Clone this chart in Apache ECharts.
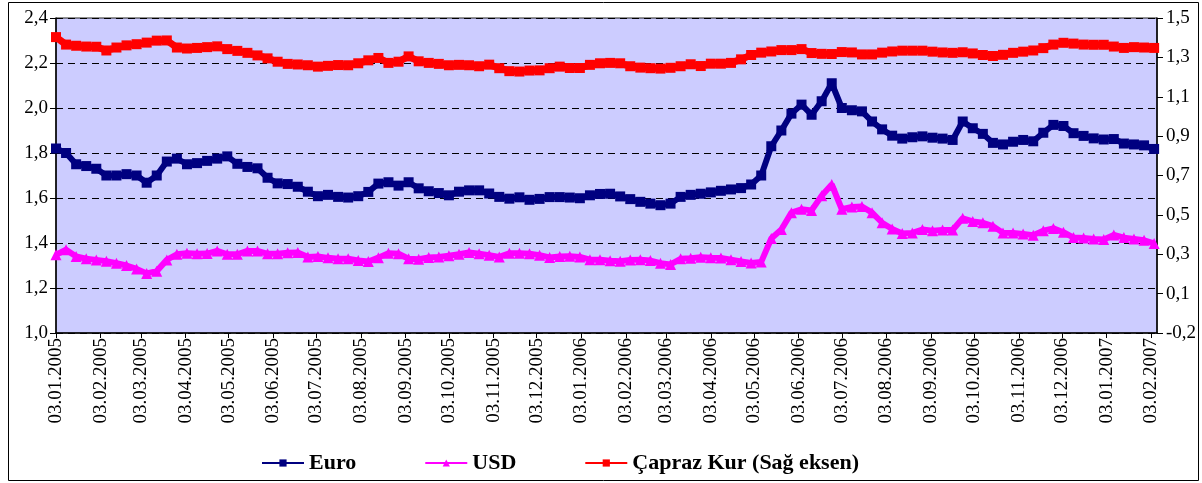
<!DOCTYPE html>
<html>
<head>
<meta charset="utf-8">
<script src="https://cdn.jsdelivr.net/npm/echarts@6/dist/echarts.min.js"></script>
<style>
  html, body { margin: 0; padding: 0; background: #fff; }
  #chart { width: 1202px; height: 483px; }
</style>
</head>
<body>
<div id="chart"></div>
<script>
// weekly readings, first week starts 03.01.2005
const firstWeek = [2005, 0, 3];
const weekCount = 110;

const tickLabels = [
  '03.01.2005', '03.02.2005', '03.03.2005', '03.04.2005', '03.05.2005', '03.06.2005',
  '03.07.2005', '03.08.2005', '03.09.2005', '03.10.2005', '03.11.2005', '03.12.2005',
  '03.01.2006', '03.02.2006', '03.03.2006', '03.04.2006', '03.05.2006', '03.06.2006',
  '03.07.2006', '03.08.2006', '03.09.2006', '03.10.2006', '03.11.2006', '03.12.2006',
  '03.01.2007', '03.02.2007'
];

const euro = [
  1.82, 1.80, 1.75, 1.742, 1.73, 1.70, 1.70, 1.706, 1.70, 1.668,
  1.70, 1.762, 1.775, 1.75, 1.755, 1.765, 1.775, 1.785, 1.752, 1.738,
  1.732, 1.69, 1.665, 1.662, 1.65, 1.628, 1.608, 1.614, 1.605, 1.602,
  1.608, 1.627, 1.664, 1.67, 1.655, 1.67, 1.643, 1.63, 1.622, 1.612,
  1.628, 1.634, 1.634, 1.62, 1.605, 1.597, 1.603, 1.592, 1.596, 1.604,
  1.604, 1.602, 1.599, 1.612, 1.618, 1.619, 1.607, 1.595, 1.583, 1.575,
  1.568, 1.575, 1.605, 1.614, 1.619, 1.625, 1.632, 1.638, 1.644, 1.66,
  1.70, 1.83, 1.90, 1.975, 2.015, 1.97, 2.03, 2.11, 2.00, 1.99,
  1.985, 1.94, 1.905, 1.877, 1.864, 1.87, 1.874, 1.868, 1.864, 1.858,
  1.94, 1.91, 1.885, 1.845, 1.838, 1.85, 1.858, 1.852, 1.89, 1.925,
  1.92, 1.888, 1.876, 1.865, 1.86, 1.862, 1.842, 1.838, 1.834, 1.818
];

const usd = [
  1.348, 1.37, 1.34, 1.33, 1.325, 1.319, 1.31, 1.30, 1.285, 1.265,
  1.275, 1.325, 1.35, 1.355, 1.352, 1.353, 1.365, 1.35, 1.35, 1.365,
  1.365, 1.352, 1.352, 1.357, 1.358, 1.338, 1.34, 1.334, 1.33, 1.33,
  1.322, 1.318, 1.335, 1.355, 1.352, 1.33, 1.328, 1.336, 1.338, 1.343,
  1.35, 1.358, 1.352, 1.346, 1.338, 1.354, 1.355, 1.352, 1.346, 1.336,
  1.34, 1.341, 1.338, 1.326, 1.326, 1.321, 1.319, 1.325, 1.326, 1.322,
  1.31, 1.305, 1.33, 1.332, 1.337, 1.334, 1.333, 1.326, 1.318, 1.311,
  1.316, 1.42, 1.46, 1.535, 1.55, 1.545, 1.61, 1.66, 1.55, 1.56,
  1.562, 1.535, 1.49, 1.462, 1.442, 1.445, 1.46, 1.455, 1.458, 1.458,
  1.51, 1.496, 1.49, 1.475, 1.445, 1.444, 1.44, 1.435, 1.455, 1.465,
  1.448, 1.424, 1.422, 1.418, 1.416, 1.436, 1.424, 1.418, 1.412, 1.398
];

const capraz = [
  1.353, 1.315, 1.309, 1.305, 1.304, 1.285, 1.30, 1.311, 1.317, 1.325,
  1.335, 1.336, 1.30, 1.295, 1.298, 1.302, 1.306, 1.292, 1.283, 1.273,
  1.26, 1.245, 1.228, 1.217, 1.214, 1.21, 1.203, 1.207, 1.211, 1.21,
  1.22, 1.235, 1.247, 1.222, 1.228, 1.255, 1.23, 1.222, 1.217, 1.21,
  1.212, 1.21, 1.205, 1.213, 1.195, 1.18, 1.178, 1.183, 1.184, 1.195,
  1.203, 1.196, 1.196, 1.212, 1.22, 1.222, 1.22, 1.205, 1.198, 1.195,
  1.193, 1.197, 1.205, 1.215, 1.206, 1.218, 1.218, 1.222, 1.24, 1.262,
  1.274, 1.28, 1.287, 1.287, 1.292, 1.272, 1.268, 1.267, 1.277, 1.275,
  1.265, 1.265, 1.274, 1.28, 1.284, 1.284, 1.284, 1.279, 1.275, 1.273,
  1.276, 1.27, 1.262, 1.257, 1.263, 1.273, 1.279, 1.285, 1.297, 1.315,
  1.324, 1.32, 1.315, 1.314, 1.314, 1.305, 1.298, 1.302, 1.30, 1.298
];

const weekDates = [];
for (let k = 0; k < weekCount; k++) {
  weekDates.push(new Date(firstWeek[0], firstWeek[1], firstWeek[2] + 7 * k).getTime());
}

function parseLabel(s) {
  const p = s.split('.');
  return new Date(+p[2], +p[1] - 1, +p[0]).getTime();
}
const tickValues = tickLabels.map(parseLabel);

function pad(n) { return n < 10 ? '0' + n : '' + n; }
function fmtDate(v) {
  const d = new Date(v);
  return pad(d.getDate()) + '.' + pad(d.getMonth() + 1) + '.' + d.getFullYear();
}
function fmtNum(v) {
  const r = Math.sign(v) * Math.round(Math.abs(v) * 10 + 1e-6) / 10;
  return r.toFixed(1).replace('.', ',');
}

const font = 'Liberation Serif';

const chart = echarts.init(document.getElementById('chart'));

const option = {
  animation: false,
  backgroundColor: '#fff',
  graphic: [{
    type: 'rect',
    shape: { x: 8.5, y: 2.5, width: 1190, height: 478 },
    style: { fill: 'none', stroke: '#000', lineWidth: 1 },
    silent: true
  }],
  grid: {
    left: 56,
    right: 45,
    top: 18,
    bottom: 150,
    show: true,
    backgroundColor: '#CCCCFF',
    borderColor: '#222',
    borderWidth: 1
  },
  legend: {
    left: 256,
    top: 447,
    itemWidth: 42,
    itemHeight: 9,
    itemGap: 68,
    textStyle: { fontFamily: font, fontWeight: 'bold', fontSize: 22, color: '#000' },
    data: ['Euro', 'USD', 'Çapraz Kur (Sağ eksen)']
  },
  xAxis: {
    // dates as timestamps on a linear axis, ticks on the 3rd of each month
    type: 'value',
    min: new Date(2005, 0, 3).getTime(),
    max: new Date(2007, 1, 7).getTime(),
    axisLine: { onZero: false, lineStyle: { color: '#000', width: 1.5 } },
    axisTick: { customValues: tickValues, length: 5, lineStyle: { color: '#000' } },
    axisLabel: {
      customValues: tickValues,
      rotate: 90,
      margin: 5,
      fontFamily: font,
      fontSize: 19,
      color: '#000',
      formatter: fmtDate
    },
    splitLine: { show: false }
  },
  yAxis: [{
    type: 'value',
    min: 1.0,
    max: 2.4,
    interval: 0.2,
    axisLine: { show: true, lineStyle: { color: '#000', width: 1.5 } },
    axisTick: { show: true, length: 6, lineStyle: { color: '#000' } },
    axisLabel: { fontFamily: font, fontSize: 19, color: '#000', margin: 8, formatter: fmtNum },
    splitLine: { show: true, lineStyle: { color: '#000', type: [7, 5], width: 1 } }
  }, {
    type: 'value',
    min: -0.15,
    max: 1.45,
    interval: 0.2,
    axisLine: { show: true, lineStyle: { color: '#000', width: 1.5 } },
    axisTick: { show: true, length: 6, lineStyle: { color: '#000' } },
    axisLabel: { fontFamily: font, fontSize: 19, color: '#000', margin: 9, formatter: fmtNum },
    splitLine: { show: false }
  }],
  series: [{
    name: 'Euro',
    type: 'line',
    yAxisIndex: 0,
    data: weekDates.map((d, i) => [d, euro[i]]),
    symbol: 'rect',
    symbolSize: 10,
    showAllSymbol: true,
    color: '#000080',
    lineStyle: { color: '#000080', width: 6 }
  }, {
    name: 'USD',
    type: 'line',
    yAxisIndex: 0,
    data: weekDates.map((d, i) => [d, usd[i]]),
    symbol: 'triangle',
    symbolSize: 11,
    showAllSymbol: true,
    color: '#FF00FF',
    lineStyle: { color: '#FF00FF', width: 6 }
  }, {
    name: 'Çapraz Kur (Sağ eksen)',
    type: 'line',
    yAxisIndex: 1,
    data: weekDates.map((d, i) => [d, capraz[i]]),
    symbol: 'rect',
    symbolSize: 10,
    showAllSymbol: true,
    color: '#FF0000',
    lineStyle: { color: '#FF0000', width: 7 }
  }]
};

chart.setOption(option);
</script>
</body>
</html>
